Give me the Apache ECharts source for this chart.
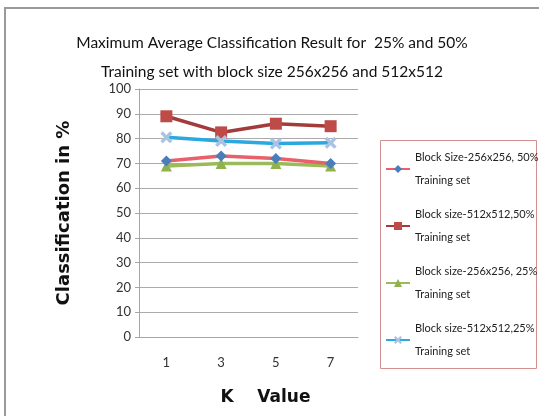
<!DOCTYPE html>
<html>
<head>
<meta charset="utf-8">
<script src="https://cdn.jsdelivr.net/npm/echarts@6/dist/echarts.min.js"></script>
<style>
  html, body { margin: 0; padding: 0; background: #fff; }
  #chart { width: 539px; height: 416px; }
</style>
</head>
<body>
<div id="chart"></div>
<script>
const kValues = ['1', '3', '5', '7']
const block256_50 = [71, 73, 72, 70]
const block512_50 = [89, 82.5, 86, 85]
const block256_25 = [69, 70, 70, 69]
const block512_25 = [80.5, 79, 78, 78.3]
const seriesNames = [
  'Block Size-256x256, 50%\nTraining set',
  'Block size-512x512,50%\nTraining set',
  'Block size-256x256, 25%\nTraining set',
  'Block size-512x512,25%\nTraining set'
]

const narrow = 'Lato, "Liberation Sans", sans-serif'
const crossPath = 'path://M0,2L2,0L5,3L8,0L10,2L7,5L10,8L8,10L5,7L2,10L0,8L3,5Z'

const chart = echarts.init(document.getElementById('chart'))

const option = {
  backgroundColor: '#fff',
  animation: false,
  title: {
    text: 'Maximum Average Classification Result for  25% and 50%\nTraining set with block size 256x256 and 512x512',
    left: 267,
    textAlign: 'center',
    top: 23,
    textStyle: {
      fontFamily: narrow,
      fontSize: 15.5,
      fontWeight: 'normal',
      color: '#111',
      lineHeight: 29
    }
  },
  graphic: [
    {
      type: 'rect',
      shape: { x: 5, y: 8, width: 560, height: 440 },
      style: { fill: 'none', stroke: '#9a9a9a', lineWidth: 2 },
      silent: true
    },
    {
      // legend frame
      type: 'rect',
      shape: { x: 380.5, y: 140.5, width: 156, height: 228 },
      style: { fill: 'none', stroke: '#d39090', lineWidth: 1 },
      silent: true
    }
  ],
  legend: {
    orient: 'vertical',
    left: 380,
    top: 140,
    padding: [6, 4, 5, 5],
    itemGap: 11,
    itemWidth: 24,
    itemHeight: 10,
    textStyle: {
      fontFamily: narrow,
      fontSize: 11,
      color: '#222',
      lineHeight: 23
    },
    data: seriesNames
  },
  grid: {
    left: 139,
    right: 181,
    top: 89,
    bottom: 79
  },
  xAxis: {
    type: 'category',
    data: kValues,
    boundaryGap: true,
    axisLine: { lineStyle: { color: '#a6a6a6', width: 1 } },
    axisTick: { show: false },
    axisLabel: { fontFamily: narrow, fontSize: 13, color: '#333', margin: 19 },
    name: 'K    Value',
    nameLocation: 'middle',
    nameGap: 52,
    nameTextStyle: {
      fontFamily: '"DejaVu Sans", Verdana, sans-serif',
      fontWeight: 'bold',
      fontSize: 17,
      color: '#111',
      padding: [0, 0, 0, 34]
    }
  },
  yAxis: {
    type: 'value',
    min: 0,
    max: 100,
    interval: 10,
    axisLine: { show: true, lineStyle: { color: '#a6a6a6', width: 1 } },
    axisTick: { show: true, length: 4, lineStyle: { color: '#a6a6a6' } },
    splitLine: { lineStyle: { color: '#ababab', width: 1 } },
    axisLabel: { fontFamily: narrow, fontSize: 13, color: '#333', margin: 8 },
    name: 'Classification in %',
    nameLocation: 'middle',
    nameGap: 66,
    nameTextStyle: {
      fontFamily: '"DejaVu Sans", Verdana, sans-serif',
      fontWeight: 'bold',
      fontSize: 18,
      color: '#111'
    }
  },
  series: [
    {
      name: seriesNames[0],
      type: 'line',
      data: block256_50,
      symbol: 'diamond',
      symbolSize: 11,
      lineStyle: { color: '#e8606a', width: 3.5 },
      itemStyle: { color: '#4a7ebb' },
      z: 4
    },
    {
      name: seriesNames[1],
      type: 'line',
      data: block512_50,
      symbol: 'rect',
      symbolSize: 12,
      lineStyle: { color: '#a23b3a', width: 3.5 },
      itemStyle: { color: '#be4b48' }
    },
    {
      name: seriesNames[2],
      type: 'line',
      data: block256_25,
      symbol: 'triangle',
      symbolSize: 11,
      lineStyle: { color: '#9bbb59', width: 3.5 },
      itemStyle: { color: '#8fb24f' },
      z: 3
    },
    {
      name: seriesNames[3],
      type: 'line',
      data: block512_25,
      symbol: crossPath,
      symbolSize: 12,
      lineStyle: { color: '#2aa8e0', width: 3.5 },
      itemStyle: { color: '#a9c3e3' }
    }
  ]
}

chart.setOption(option)
</script>
</body>
</html>
